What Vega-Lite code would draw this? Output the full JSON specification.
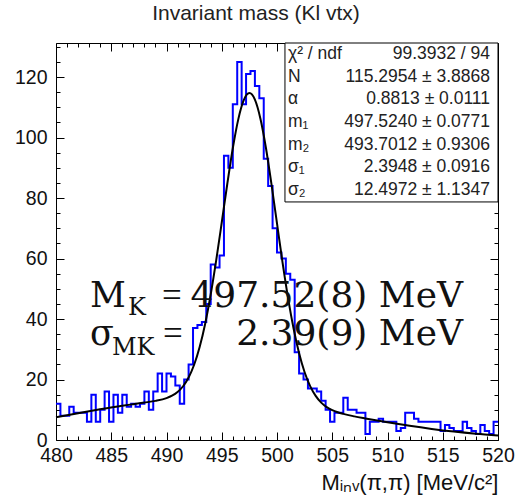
{
"$schema": "https://vega.github.io/schema/vega-lite/v6.json",
"width": 442, "height": 397,
"autosize": {"type": "none"},
"padding": {"left": 56, "top": 43, "right": 21, "bottom": 61},
"background": "white",
"title": {"text": "Invariant mass (Kl vtx)", "font": "Liberation Sans", "fontSize": 21, "fontWeight": "normal", "color": "#222", "anchor": "middle", "frame": "group", "dx": -21, "offset": 2, "baseline": "alphabetic"},
"config": {
  "view": {"stroke": "#000", "strokeWidth": 1},
  "axis": {"grid": false, "domain": false, "tickColor": "#000", "tickWidth": 1, "labelColor": "#111", "labelFont": "Liberation Sans", "labelFontSize": 20, "labelFlush": false, "labelOverlap": false, "titleFont": "Liberation Sans", "titleFontWeight": "normal", "titleColor": "#111"}
},
"datasets": {
  "hist": [
    {"lo": 480.0, "n": 12}, {"lo": 480.4, "n": 8}, {"lo": 480.8, "n": 8}, {"lo": 481.2, "n": 11}, {"lo": 481.6, "n": 9},
    {"lo": 482.0, "n": 9}, {"lo": 482.4, "n": 9}, {"lo": 482.8, "n": 6}, {"lo": 483.2, "n": 15}, {"lo": 483.6, "n": 6},
    {"lo": 484.0, "n": 10}, {"lo": 484.4, "n": 16}, {"lo": 484.8, "n": 6}, {"lo": 485.2, "n": 15}, {"lo": 485.6, "n": 9},
    {"lo": 486.0, "n": 15}, {"lo": 486.4, "n": 11}, {"lo": 486.8, "n": 12}, {"lo": 487.2, "n": 11}, {"lo": 487.6, "n": 12},
    {"lo": 488.0, "n": 16}, {"lo": 488.4, "n": 10}, {"lo": 488.8, "n": 16}, {"lo": 489.2, "n": 22}, {"lo": 489.6, "n": 16},
    {"lo": 490.0, "n": 22}, {"lo": 490.4, "n": 21}, {"lo": 490.8, "n": 18}, {"lo": 491.2, "n": 12}, {"lo": 491.6, "n": 20},
    {"lo": 492.0, "n": 25}, {"lo": 492.4, "n": 37}, {"lo": 492.8, "n": 38}, {"lo": 493.2, "n": 39}, {"lo": 493.6, "n": 45},
    {"lo": 494.0, "n": 58}, {"lo": 494.4, "n": 57}, {"lo": 494.8, "n": 61}, {"lo": 495.2, "n": 94}, {"lo": 495.6, "n": 90},
    {"lo": 496.0, "n": 111}, {"lo": 496.4, "n": 125}, {"lo": 496.8, "n": 111}, {"lo": 497.2, "n": 121}, {"lo": 497.6, "n": 122},
    {"lo": 498.0, "n": 117}, {"lo": 498.4, "n": 113}, {"lo": 498.8, "n": 93}, {"lo": 499.2, "n": 84}, {"lo": 499.6, "n": 70},
    {"lo": 500.0, "n": 62}, {"lo": 500.4, "n": 60}, {"lo": 500.8, "n": 55}, {"lo": 501.2, "n": 53}, {"lo": 501.6, "n": 29},
    {"lo": 502.0, "n": 22}, {"lo": 502.4, "n": 20}, {"lo": 502.8, "n": 17}, {"lo": 503.2, "n": 17}, {"lo": 503.6, "n": 16},
    {"lo": 504.0, "n": 13}, {"lo": 504.4, "n": 10}, {"lo": 504.8, "n": 6}, {"lo": 505.2, "n": 9}, {"lo": 505.6, "n": 9},
    {"lo": 506.0, "n": 14}, {"lo": 506.4, "n": 10}, {"lo": 506.8, "n": 10}, {"lo": 507.2, "n": 9}, {"lo": 507.6, "n": 9},
    {"lo": 508.0, "n": 2}, {"lo": 508.4, "n": 6}, {"lo": 508.8, "n": 6}, {"lo": 509.2, "n": 7}, {"lo": 509.6, "n": 6},
    {"lo": 510.0, "n": 6}, {"lo": 510.4, "n": 6}, {"lo": 510.8, "n": 3}, {"lo": 511.2, "n": 4}, {"lo": 511.6, "n": 9},
    {"lo": 512.0, "n": 9}, {"lo": 512.4, "n": 7}, {"lo": 512.8, "n": 6}, {"lo": 513.2, "n": 6}, {"lo": 513.6, "n": 6},
    {"lo": 514.0, "n": 6}, {"lo": 514.4, "n": 6}, {"lo": 514.8, "n": 3}, {"lo": 515.2, "n": 5}, {"lo": 515.6, "n": 4},
    {"lo": 516.0, "n": 3}, {"lo": 516.4, "n": 3}, {"lo": 516.8, "n": 6}, {"lo": 517.2, "n": 4}, {"lo": 517.6, "n": 3},
    {"lo": 518.0, "n": 2}, {"lo": 518.4, "n": 5}, {"lo": 518.8, "n": 3}, {"lo": 519.2, "n": 2}, {"lo": 519.6, "n": 6},
    {"lo": 520.0, "n": 6}
  ],
  "fit": [
    {"m": 480, "f": 7.50}, {"m": 482, "f": 8.83}, {"m": 484, "f": 10.13}, {"m": 486, "f": 11.32}, {"m": 487, "f": 11.85},
    {"m": 488, "f": 12.37}, {"m": 489, "f": 12.93}, {"m": 490, "f": 13.83}, {"m": 490.5, "f": 14.63}, {"m": 491, "f": 15.86},
    {"m": 491.5, "f": 17.77}, {"m": 492, "f": 20.67}, {"m": 492.5, "f": 24.87}, {"m": 493, "f": 30.72}, {"m": 493.5, "f": 38.45},
    {"m": 494, "f": 48.09}, {"m": 494.5, "f": 59.45}, {"m": 495, "f": 71.91}, {"m": 495.5, "f": 84.64}, {"m": 496, "f": 96.44},
    {"m": 496.5, "f": 106.08}, {"m": 497, "f": 112.42}, {"m": 497.5, "f": 114.68}, {"m": 498, "f": 112.52}, {"m": 498.5, "f": 106.22},
    {"m": 499, "f": 96.54}, {"m": 499.5, "f": 84.59}, {"m": 500, "f": 71.60}, {"m": 500.5, "f": 58.74}, {"m": 501, "f": 46.98},
    {"m": 501.5, "f": 36.87}, {"m": 502, "f": 28.69}, {"m": 502.5, "f": 22.41}, {"m": 503, "f": 17.82}, {"m": 503.5, "f": 14.58},
    {"m": 504, "f": 12.37}, {"m": 504.5, "f": 10.88}, {"m": 505, "f": 9.87}, {"m": 505.5, "f": 9.16}, {"m": 506, "f": 8.63},
    {"m": 507, "f": 7.81}, {"m": 508, "f": 7.12}, {"m": 510, "f": 5.85}, {"m": 512, "f": 4.69}, {"m": 514, "f": 3.67},
    {"m": 516, "f": 2.79}, {"m": 518, "f": 2.07}, {"m": 520, "f": 1.50}
  ],
  "stats": [
    {"param": "χ² / ndf", "val": "99.3932 / 94"},
    {"param": "N", "val": "115.2954 ± 3.8868"},
    {"param": "α", "val": "0.8813 ± 0.0111"},
    {"param": "m₁", "val": "497.5240 ± 0.0771"},
    {"param": "m₂", "val": "493.7012 ± 0.9306"},
    {"param": "σ₁", "val": "2.3948 ± 0.0916"},
    {"param": "σ₂", "val": "12.4972 ± 1.1347"}
  ],
  "one": [{}]
},
"layer": [
  {
    "layer": [
      {
        "data": {"name": "hist"},
        "mark": {"type": "line", "interpolate": "step-after", "color": "#0000ff", "strokeWidth": 2},
        "encoding": {
          "x": {"field": "lo", "type": "quantitative", "scale": {"domain": [480, 520], "nice": false, "zero": false},
                "axis": {"orient": "bottom", "values": [480,485,490,495,500,505,510,515,520], "tickSize": -8, "labelPadding": 14, "labelFontSize": 19.5, "title": "Mᵢₙᵥ(π,π) [MeV/c²]", "titleAnchor": "end", "titleFontSize": 22, "titlePadding": 8}},
          "y": {"field": "n", "type": "quantitative", "scale": {"domain": [0, 131.25], "nice": false, "zero": true},
                "axis": {"orient": "left", "values": [0,20,40,60,80,100,120], "tickSize": -8, "labelPadding": 17, "labelFontSize": 19.5, "title": null}}
        }
      },
      {
        "data": {"name": "fit"},
        "mark": {"type": "line", "interpolate": "monotone", "color": "#000", "strokeWidth": 2},
        "encoding": {
          "x": {"field": "m", "type": "quantitative",
                "axis": {"orient": "bottom", "values": [481,482,483,484,486,487,488,489,491,492,493,494,496,497,498,499,501,502,503,504,506,507,508,509,511,512,513,514,516,517,518,519], "tickSize": -4, "labels": false, "title": null}},
          "y": {"field": "f", "type": "quantitative",
                "axis": {"orient": "left", "values": [5,10,15,25,30,35,45,50,55,65,70,75,85,90,95,105,110,115,125,130], "tickSize": -4, "labels": false, "title": null}}
        }
      },
      {
        "data": {"name": "one"},
        "mark": {"type": "rect", "fill": "white", "stroke": "#000", "strokeWidth": 1},
        "encoding": {
          "x": {"datum": 500.72, "type": "quantitative",
                "axis": {"orient": "top", "values": [480,485,490,495,500,505,510,515,520], "tickSize": -8, "labels": false, "title": null}},
          "x2": {"datum": 520},
          "y": {"datum": 78.7, "type": "quantitative",
                "axis": {"orient": "right", "values": [0,20,40,60,80,100,120], "tickSize": -8, "labels": false, "title": null}},
          "y2": {"datum": 131.25}
        }
      },
      {
        "data": {"name": "one"},
        "mark": {"type": "text", "text": "M", "font": "DejaVu Serif", "fontSize": 35, "align": "left", "baseline": "alphabetic", "color": "#111"},
        "encoding": {
          "x": {"datum": 483.08, "type": "quantitative",
                "axis": {"orient": "top", "values": [481,482,483,484,486,487,488,489,491,492,493,494,496,497,498,499,501,502,503,504,506,507,508,509,511,512,513,514,516,517,518,519], "tickSize": -4, "labels": false, "title": null}},
          "y": {"datum": 43.97, "type": "quantitative",
                "axis": {"orient": "right", "values": [5,10,15,25,30,35,45,50,55,65,70,75,85,90,95,105,110,115,125,130], "tickSize": -4, "labels": false, "title": null}}
        }
      },
      {
        "data": {"name": "one"},
        "mark": {"type": "text", "text": "K", "font": "DejaVu Serif", "fontSize": 24, "align": "left", "baseline": "alphabetic", "color": "#111"},
        "encoding": {"x": {"datum": 486.51, "type": "quantitative", "axis": null}, "y": {"datum": 41.32, "type": "quantitative", "axis": null}}
      },
      {
        "data": {"name": "one"},
        "mark": {"type": "text", "text": "=", "font": "Liberation Serif", "fontSize": 35, "align": "left", "baseline": "alphabetic", "color": "#111"},
        "encoding": {"x": {"datum": 489.59, "type": "quantitative", "axis": null}, "y": {"datum": 43.97, "type": "quantitative", "axis": null}}
      },
      {
        "data": {"name": "one"},
        "mark": {"type": "text", "text": "497.52(8) MeV", "font": "DejaVu Serif", "fontSize": 36, "align": "right", "baseline": "alphabetic", "color": "#111"},
        "encoding": {"x": {"datum": 516.83, "type": "quantitative", "axis": null}, "y": {"datum": 43.97, "type": "quantitative", "axis": null}}
      },
      {
        "data": {"name": "one"},
        "mark": {"type": "text", "text": "σ", "font": "DejaVu Serif", "fontSize": 35, "align": "left", "baseline": "alphabetic", "color": "#111"},
        "encoding": {"x": {"datum": 483.08, "type": "quantitative", "axis": null}, "y": {"datum": 31.40, "type": "quantitative", "axis": null}}
      },
      {
        "data": {"name": "one"},
        "mark": {"type": "text", "text": "MK", "font": "DejaVu Serif", "fontSize": 24, "align": "left", "baseline": "alphabetic", "color": "#111"},
        "encoding": {"x": {"datum": 485.07, "type": "quantitative", "axis": null}, "y": {"datum": 28.10, "type": "quantitative", "axis": null}}
      },
      {
        "data": {"name": "one"},
        "mark": {"type": "text", "text": "=", "font": "Liberation Serif", "fontSize": 35, "align": "left", "baseline": "alphabetic", "color": "#111"},
        "encoding": {"x": {"datum": 489.68, "type": "quantitative", "axis": null}, "y": {"datum": 31.40, "type": "quantitative", "axis": null}}
      },
      {
        "data": {"name": "one"},
        "mark": {"type": "text", "text": "2.39(9) MeV", "font": "DejaVu Serif", "fontSize": 36, "align": "right", "baseline": "alphabetic", "color": "#111"},
        "encoding": {"x": {"datum": 516.83, "type": "quantitative", "axis": null}, "y": {"datum": 31.40, "type": "quantitative", "axis": null}}
      }
    ],
    "resolve": {"axis": {"x": "independent", "y": "independent"}}
  },
  {
    "data": {"name": "stats"},
    "encoding": {
      "y": {"field": "param", "type": "nominal", "sort": null, "scale": {"type": "point", "range": [11, 147], "padding": 0}, "axis": null}
    },
    "layer": [
      {
        "mark": {"type": "text", "align": "left", "baseline": "middle", "font": "Liberation Sans", "fontSize": 17.5, "color": "#222"},
        "encoding": {"x": {"datum": 500.99, "type": "quantitative", "axis": null}, "text": {"field": "param"}}
      },
      {
        "mark": {"type": "text", "align": "right", "baseline": "middle", "font": "Liberation Sans", "fontSize": 17.5, "color": "#222"},
        "encoding": {"x": {"datum": 519.28, "type": "quantitative", "axis": null}, "text": {"field": "val"}}
      }
    ]
  }
],
"resolve": {"scale": {"y": "independent"}, "axis": {"x": "independent", "y": "independent"}}
}
